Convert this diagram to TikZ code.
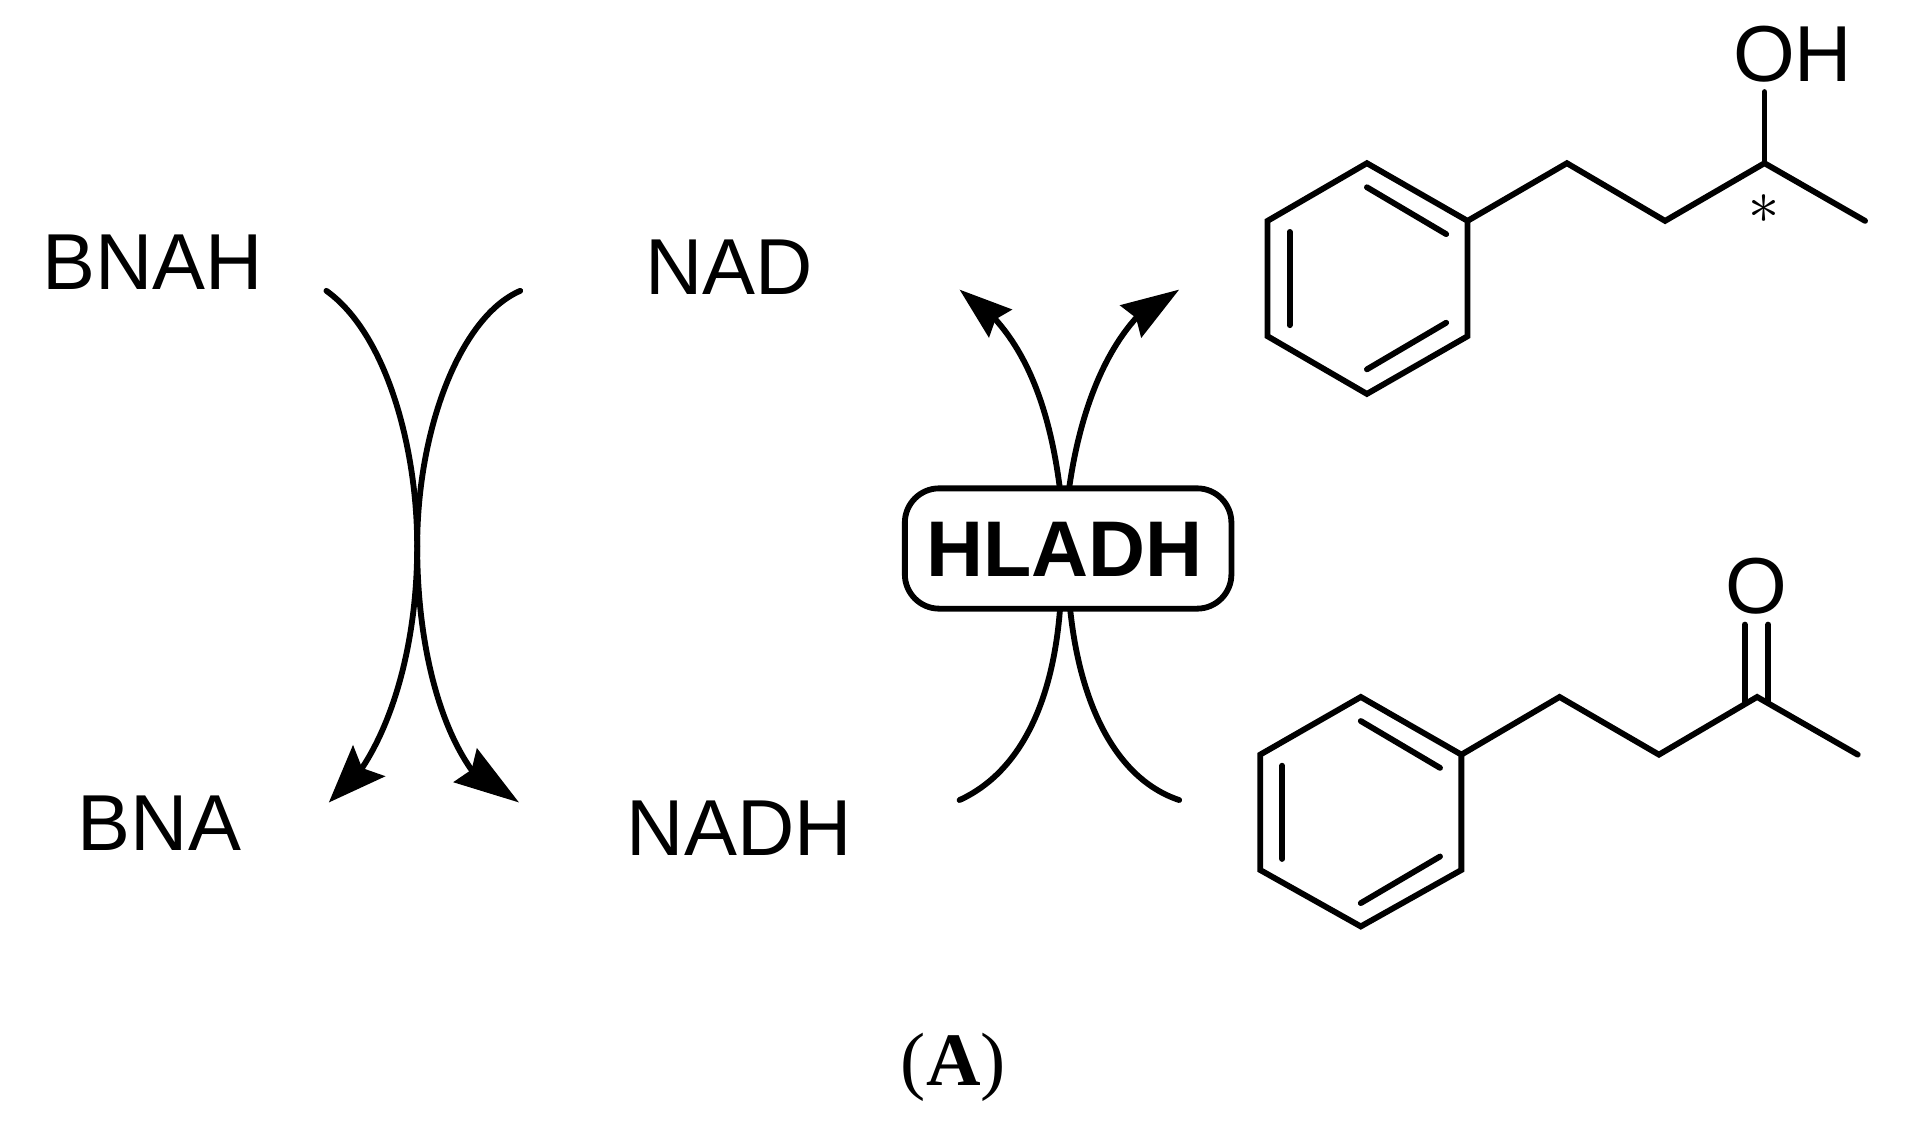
\documentclass[tikz,border=0pt]{standalone}
\usepackage{fontspec}
\setmainfont{Liberation Sans}
\newfontfamily\capfont{Liberation Serif}
\usetikzlibrary{arrows.meta}
\tikzset{
  bond/.style={line width=1.35pt,line join=miter,line cap=round},
  curve/.style={line width=1.35pt,line cap=round},
  tipL/.style={-{Stealth[length=4.7mm,width=3.6mm,inset=0.8mm]}},
  tipR/.style={-{Stealth[length=5.3mm,width=3.3mm,inset=0.6mm]}},
  tipTL/.style={-{Stealth[length=4.3mm,width=2.9mm,inset=0.5mm]}},
  tipTR/.style={-{Stealth[length=4.7mm,width=3.1mm,inset=0.5mm]}},
  lab/.style={anchor=base,inner sep=0pt,font=\fontsize{18.4}{20}\selectfont},
  enzyme/.style={draw,fill=white,line width=1.35pt,rounded corners=2.8mm,minimum width=2.66cm,minimum height=0.98cm,inner sep=0pt},
}
\begin{document}
\begin{tikzpicture}[x=0.01cm,y=-0.01cm]
\useasboundingbox (0,0) rectangle (1568,920);
% labels
\node[lab] (bnah) at (124.5,236) {BNAH};
\node[lab] (bna) at (130,693) {BNA};
\node[lab] (nad) at (594,240) {NAD};
\node[lab] (nadh) at (602.5,697) {NADH};
\node[lab] (oh) at (1461,66) {OH};
\node[lab] (oxo) at (1431,500) {O};
\node[anchor=center,inner sep=0pt,font=\fontsize{13.5}{15}\selectfont] (star) at (1437.5,170) {$\ast$};
\node[anchor=base,inner sep=0pt,font=\capfont\fontsize{17.5}{20}\selectfont] (cap) at (777,885) {(\textbf{A})};
% left curves
\coordinate (a1) at (266,237);
\coordinate (a2) at (424,237);
\coordinate (am) at (340,445);
\coordinate (n1) at (295,626);
\coordinate (n2) at (384,627);
\coordinate (t1) at (268,654);
\coordinate (t2) at (423,654);
\draw[curve] (a1) .. controls (315,272) and (340,365) .. (am);
\draw[curve] (am) .. controls (340,520) and (322,585) .. (n1);
\draw[tipL,line width=1.35pt] (n1) -- (t1);
\draw[curve] (a2) .. controls (375,258) and (340,350) .. (am);
\draw[curve] (am) .. controls (340,525) and (358,590) .. (n2);
\draw[tipR,line width=1.35pt] (n2) -- (t2);
% right curves
\coordinate (b1) at (864,400);
\coordinate (b2) at (871,400);
\coordinate (b3) at (864,495);
\coordinate (b4) at (872,495);
\coordinate (n3) at (811,260);
\coordinate (n4) at (926,259);
\coordinate (c1) at (782,236);
\coordinate (c2) at (961,236);
\coordinate (c3) at (782,652);
\coordinate (c4) at (961,652);
\draw[curve] (b1) .. controls (856,335) and (838,290) .. (n3);
\draw[tipTL,line width=1.35pt] (n3) -- (c1);
\draw[curve] (b2) .. controls (880,335) and (900,288) .. (n4);
\draw[tipTR,line width=1.35pt] (n4) -- (c2);
\draw[curve] (c3) .. controls (830,630) and (858,575) .. (b3);
\draw[curve] (c4) .. controls (910,635) and (880,575) .. (b4);
\node[enzyme] (hl) at (870.5,447) {};
\node[anchor=base,inner sep=0pt,font=\bfseries\fontsize{18.3}{20}\selectfont] (hltext) at (867.5,470) {HLADH};
% top molecule
\coordinate (p1) at (1114,133);
\coordinate (p2) at (1196,180);
\coordinate (p3) at (1196,274);
\coordinate (p4) at (1114,321);
\coordinate (p5) at (1033,274);
\coordinate (p6) at (1033,180);
\coordinate (p7) at (1277,133);
\coordinate (p8) at (1357,180);
\coordinate (p9) at (1438,133);
\coordinate (p10) at (1520,180);
\coordinate (p11) at (1438,75);
\draw[bond] (p1) -- (p2) -- (p3) -- (p4) -- (p5) -- (p6) -- cycle;
\draw[bond] (p2) -- (p7) -- (p8) -- (p9) -- (p10);
\draw[bond] (p9) -- (p11);
\draw[bond] (1114,152.6) -- (1178.6,190.8);
\draw[bond] (1051,189) -- (1051,265);
\draw[bond] (1178.6,263) -- (1114,301);
% bottom molecule
\coordinate (q1) at (1109,568);
\coordinate (q2) at (1191,615);
\coordinate (q3) at (1191,709);
\coordinate (q4) at (1109,755);
\coordinate (q5) at (1027,709);
\coordinate (q6) at (1027,615);
\coordinate (q7) at (1271,568);
\coordinate (q8) at (1352,615);
\coordinate (q9) at (1432,568);
\coordinate (q10) at (1514,615);
\draw[bond] (q1) -- (q2) -- (q3) -- (q4) -- (q5) -- (q6) -- cycle;
\draw[bond] (q2) -- (q7) -- (q8) -- (q9) -- (q10);
\draw[bond] (1422,509) -- (1422,572);
\draw[bond] (1441,509) -- (1441,572);
\draw[bond] (1109,587.6) -- (1173.6,625.8);
\draw[bond] (1045,624) -- (1045,700);
\draw[bond] (1173.6,698) -- (1109,736);
\end{tikzpicture}
\end{document}
